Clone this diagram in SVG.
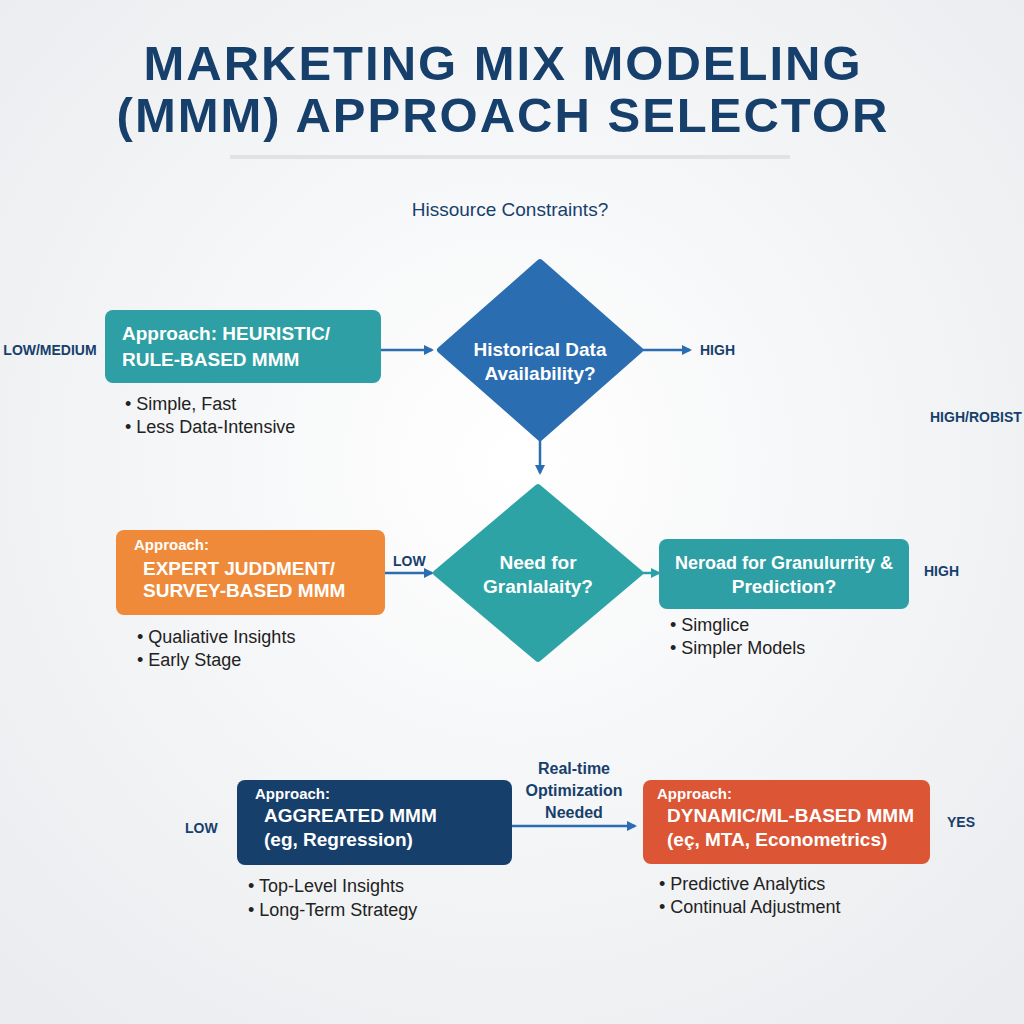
<svg xmlns="http://www.w3.org/2000/svg" width="1024" height="1024" viewBox="0 0 1024 1024">
<defs>
<marker id="ah" markerWidth="10" markerHeight="10" refX="8" refY="5" orient="auto" markerUnits="userSpaceOnUse"><path d="M0,0 L10,5 L0,10 z" fill="#2a6db0"/></marker>
<marker id="at" markerWidth="10" markerHeight="10" refX="8" refY="5" orient="auto" markerUnits="userSpaceOnUse"><path d="M0,0 L10,5 L0,10 z" fill="#2aa0a8"/></marker>
<radialGradient id="bg" cx="50%" cy="45%" r="70%"><stop offset="0" stop-color="#ffffff"/><stop offset="1" stop-color="#eaecef"/></radialGradient>
</defs>
<style>
text{font-family:"Liberation Sans",Arial,sans-serif}
.t{font-weight:bold;fill:#173f6b;font-size:49px;letter-spacing:2px}
.w{fill:#fff;font-size:19px;font-weight:bold}
.s{fill:#fff;font-size:15px;font-weight:bold}
.b{fill:#222;font-size:18px}
.l{fill:#173f6b;font-size:14px;font-weight:bold}
.c{stroke:#2a6db0;stroke-width:2.5;fill:none}
</style>
<rect width="1024" height="1024" fill="url(#bg)"/>
<text class="t" x="503" y="80" text-anchor="middle">MARKETING MIX MODELING</text>
<text class="t" x="503" y="132" text-anchor="middle">(MMM) APPROACH SELECTOR</text>
<rect x="230" y="155" width="560" height="4" fill="#e0e2e6"/>
<text x="510" y="216" text-anchor="middle" style="fill:#173f6b;font-size:19px">Hissource Constraints?</text>

<g id="connectors">
<line class="c" x1="381" y1="350" x2="432" y2="350" marker-end="url(#ah)"/>
<line class="c" x1="640" y1="350" x2="690" y2="350" marker-end="url(#ah)"/>
<line class="c" x1="540" y1="438" x2="540" y2="473" marker-end="url(#ah)"/>
<line class="c" x1="385" y1="573" x2="432" y2="573" marker-end="url(#ah)"/>
<line x1="640" y1="573" x2="659" y2="573" stroke="#2aa0a8" stroke-width="2.5" marker-end="url(#at)"/>
<line class="c" x1="512" y1="826" x2="635" y2="826" marker-end="url(#ah)"/>
<text class="l" x="50" y="355" text-anchor="middle">LOW/MEDIUM</text>
<text class="l" x="700" y="355">HIGH</text>
<text class="l" x="930" y="422">HIGH/ROBIST</text>
<text class="l" x="393" y="566">LOW</text>
<text class="l" x="924" y="576">HIGH</text>
<text class="l" x="185" y="833">LOW</text>
<text class="l" x="947" y="827">YES</text>
<text x="574" y="774" text-anchor="middle" style="fill:#173f6b;font-size:16px;font-weight:bold">Real-time</text>
<text x="574" y="796" text-anchor="middle" style="fill:#173f6b;font-size:16px;font-weight:bold">Optimization</text>
<text x="574" y="818" text-anchor="middle" style="fill:#173f6b;font-size:16px;font-weight:bold">Needed</text>
</g>

<g id="heuristic">
<rect x="105" y="310" width="276" height="73" rx="8" fill="#2e9fa4"/>
<text class="w" x="122" y="340">Approach: HEURISTIC/</text>
<text class="w" x="122" y="366">RULE-BASED MMM</text>
<text class="b" x="125" y="410">• Simple, Fast</text>
<text class="b" x="125" y="433">• Less Data-Intensive</text>
</g>

<g id="historical">
<path d="M540,262 L640,350 L540,438 L440,350 z" fill="#2a6db0" stroke="#2a6db0" stroke-width="6" stroke-linejoin="round"/>
<text class="w" x="540" y="356" text-anchor="middle">Historical Data</text>
<text class="w" x="540" y="380" text-anchor="middle">Availability?</text>
</g>

<g id="expert">
<rect x="116" y="530" width="269" height="85" rx="8" fill="#ee8a3a"/>
<text class="s" x="134" y="550">Approach:</text>
<text class="w" x="143" y="575">EXPERT JUDDMENT/</text>
<text class="w" x="143" y="597">SURVEY-BASED MMM</text>
<text class="b" x="137" y="643">• Qualiative Insights</text>
<text class="b" x="137" y="666">• Early Stage</text>
</g>

<g id="granularity">
<path d="M538,487 L640,573 L538,659 L436,573 z" fill="#2ea3a6" stroke="#2ea3a6" stroke-width="6" stroke-linejoin="round"/>
<text class="w" x="538" y="569" text-anchor="middle">Need for</text>
<text class="w" x="538" y="593" text-anchor="middle">Granlalaity?</text>
</g>

<g id="prediction">
<rect x="659" y="539" width="250" height="70" rx="8" fill="#2e9fa4"/>
<text class="w" x="784" y="569" text-anchor="middle" style="font-size:18px">Neroad for Granulurrity &amp;</text>
<text class="w" x="784" y="593" text-anchor="middle">Prediction?</text>
<text class="b" x="670" y="631">• Simglice</text>
<text class="b" x="670" y="654">• Simpler Models</text>
</g>

<g id="aggregated">
<rect x="237" y="780" width="275" height="85" rx="8" fill="#173f6b"/>
<text class="s" x="255" y="799">Approach:</text>
<text class="w" x="264" y="822">AGGREATED MMM</text>
<text class="w" x="264" y="846">(eg, Regression)</text>
<text class="b" x="248" y="892">• Top-Level Insights</text>
<text class="b" x="248" y="916">• Long-Term Strategy</text>
</g>

<g id="dynamic">
<rect x="643" y="780" width="287" height="84" rx="8" fill="#dc5535"/>
<text class="s" x="657" y="799">Approach:</text>
<text class="w" x="667" y="822">DYNAMIC/ML-BASED MMM</text>
<text class="w" x="667" y="846">(eç, MTA, Econometrics)</text>
<text class="b" x="659" y="890">• Predictive Analytics</text>
<text class="b" x="659" y="913">• Continual Adjustment</text>
</g>
</svg>
